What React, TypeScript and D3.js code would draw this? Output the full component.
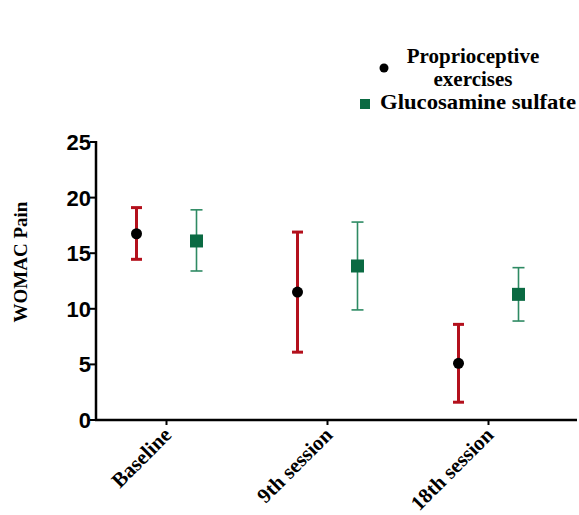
import { useEffect, useRef } from "react";
import * as d3 from "d3";

// data
const sessions = ["Baseline", "9th session", "18th session"];
const propMean = [16.75, 11.5, 5.1];
const propLow = [14.45, 6.1, 1.6];
const propHigh = [19.1, 16.9, 8.6];
const glucMean = [16.1, 13.85, 11.3];
const glucLow = [13.4, 9.9, 8.9];
const glucHigh = [18.9, 17.8, 13.7];
const yTicks = [0, 5, 10, 15, 20, 25];

function App() {
  const ref = useRef<SVGSVGElement | null>(null);
  const width = 579;
  const height = 515;

  useEffect(() => {
    const svg = d3.select(ref.current);
    svg.selectAll("*").remove();

    const axisX = 96;
    const yScale = d3.scaleLinear().domain([0, 25]).range([420, 142]);
    const xScale = d3.scaleBand().domain(sessions).range([86, 569]);
    const center = (s: string) => (xScale(s) as number) + xScale.bandwidth() / 2;
    const offset = 30;

    const serif = "'Liberation Serif', 'Times New Roman', serif";
    const sans = "'Liberation Sans', Arial, sans-serif";

    // axes
    svg.append("line")
      .attr("x1", axisX).attr("x2", axisX)
      .attr("y1", yScale(25) - 1).attr("y2", yScale(0) + 1)
      .attr("stroke", "#000").attr("stroke-width", 2.5);
    svg.append("line")
      .attr("x1", axisX - 1).attr("x2", 577)
      .attr("y1", yScale(0)).attr("y2", yScale(0))
      .attr("stroke", "#000").attr("stroke-width", 2.5);

    const yt = svg.append("g").selectAll("g").data(yTicks).join("g");
    yt.append("line")
      .attr("x1", axisX - 6).attr("x2", axisX)
      .attr("y1", d => yScale(d)).attr("y2", d => yScale(d))
      .attr("stroke", "#000").attr("stroke-width", 2);
    yt.append("text")
      .attr("x", axisX - 5).attr("y", d => yScale(d))
      .attr("dy", "0.36em")
      .attr("text-anchor", "end")
      .style("font-family", sans).style("font-weight", 700).style("font-size", "22px")
      .text(d => d);

    const xt = svg.append("g").selectAll("g").data(sessions).join("g");
    xt.append("line")
      .attr("x1", d => center(d)).attr("x2", d => center(d))
      .attr("y1", yScale(0)).attr("y2", yScale(0) + 5)
      .attr("stroke", "#000").attr("stroke-width", 2);
    xt.append("text")
      .attr("transform", d => `translate(${center(d) + 1}, ${yScale(0) + 11}) rotate(-45)`)
      .attr("text-anchor", "end")
      .attr("dy", "0.35em")
      .style("font-family", serif).style("font-weight", 700).style("font-size", "21px")
      .text(d => d);

    svg.append("text")
      .attr("transform", `translate(27, 262) rotate(-90)`)
      .attr("text-anchor", "middle")
      .style("font-family", serif).style("font-weight", 700).style("font-size", "19px")
      .text("WOMAC Pain");

    // error bars + markers
    const drawBars = (mean: number[], low: number[], high: number[], dx: number, color: string, sw: number, cap: number) => {
      const g = svg.append("g").selectAll("g").data(sessions).join("g");
      g.append("line")
        .attr("x1", d => center(d) + dx).attr("x2", d => center(d) + dx)
        .attr("y1", (d, i) => yScale(high[i])).attr("y2", (d, i) => yScale(low[i]))
        .attr("stroke", color).attr("stroke-width", sw);
      [high, low].forEach(arr => {
        g.append("line")
          .attr("x1", d => center(d) + dx - cap / 2).attr("x2", d => center(d) + dx + cap / 2)
          .attr("y1", (d, i) => yScale(arr[i])).attr("y2", (d, i) => yScale(arr[i]))
          .attr("stroke", color).attr("stroke-width", sw);
      });
      return g;
    };

    const pg = drawBars(propMean, propLow, propHigh, -offset, "#b3101c", 3, 11);
    pg.append("circle")
      .attr("cx", d => center(d) - offset)
      .attr("cy", (d, i) => yScale(propMean[i]))
      .attr("r", 5.5).attr("fill", "#000");

    const gg = drawBars(glucMean, glucLow, glucHigh, offset, "#2e8a63", 1.6, 12);
    gg.append("rect")
      .attr("x", d => center(d) + offset - 6.5)
      .attr("y", (d, i) => yScale(glucMean[i]) - 6.5)
      .attr("width", 13).attr("height", 13).attr("fill", "#0a6a42");

    // legend
    const leg = svg.append("g");
    const legFont = "21px";
    leg.append("circle").attr("cx", 384).attr("cy", 68).attr("r", 4.5).attr("fill", "#000");
    leg.append("text").attr("x", 473).attr("y", 63).attr("text-anchor", "middle")
      .style("font-family", serif).style("font-weight", 700).style("font-size", legFont)
      .text("Proprioceptive");
    leg.append("text").attr("x", 473).attr("y", 86).attr("text-anchor", "middle")
      .style("font-family", serif).style("font-weight", 700).style("font-size", legFont)
      .text("exercises");
    leg.append("rect").attr("x", 360).attr("y", 99).attr("width", 10).attr("height", 10).attr("fill", "#0a6a42");
    leg.append("text").attr("x", 380).attr("y", 109)
      .attr("textLength", 196).attr("lengthAdjust", "spacingAndGlyphs")
      .style("font-family", serif).style("font-weight", 700).style("font-size", legFont)
      .text("Glucosamine sulfate");
  }, []);

  return (
    <svg ref={ref} width={width} height={height}
      style={{ position: "absolute", left: 0, top: 0, background: "#fff" }} />
  );
}

export default App;
